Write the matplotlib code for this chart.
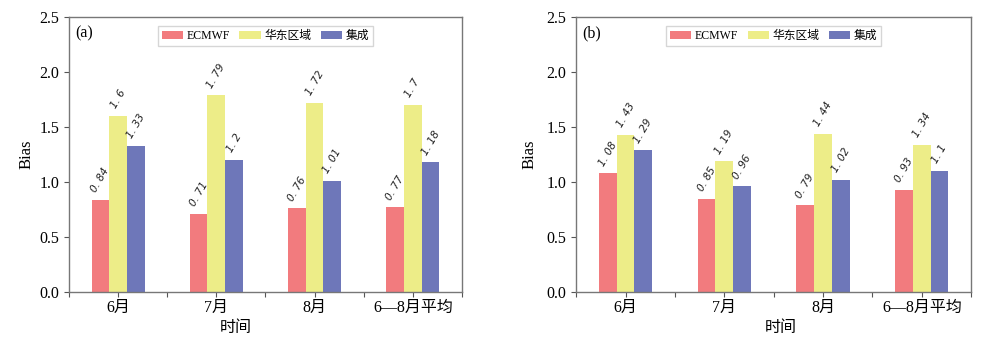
import numpy as np
import matplotlib
matplotlib.use("Agg")
import matplotlib.pyplot as plt

plt.rcParams['font.family'] = ['Liberation Serif', 'Noto Sans CJK SC']
plt.rcParams['axes.unicode_minus'] = False

categories = ['6月', '7月', '8月', '6—8月平均']
series_names = ['ECMWF', '华东区域', '集成']

a_ecmwf = [0.84, 0.71, 0.76, 0.77]
a_huadong = [1.6, 1.79, 1.72, 1.7]
a_jicheng = [1.33, 1.2, 1.01, 1.18]

b_ecmwf = [1.08, 0.85, 0.79, 0.93]
b_huadong = [1.43, 1.19, 1.44, 1.34]
b_jicheng = [1.29, 0.96, 1.02, 1.1]

yticks = [0.0, 0.5, 1.0, 1.5, 2.0, 2.5]
colors = ['#F27B7E', '#EDED88', '#6E77B9']


def fmt(v):
    s = f"{v:g}"
    return s.replace('.', '. ')


fig = plt.figure(figsize=(9.85, 3.4), dpi=100)
ax_a = fig.add_axes([0.070, 0.141, 0.399, 0.809])
ax_b = fig.add_axes([0.585, 0.141, 0.401, 0.809])

panels = [
    (ax_a, '(a)', [a_ecmwf, a_huadong, a_jicheng], 0.425, -0.087),
    (ax_b, '(b)', [b_ecmwf, b_huadong, b_jicheng], 0.519, -0.099),
]

x = np.arange(len(categories))
w = 0.18
for ax, tag, data, xlab, ylab in panels:
    for i, (vals, name, c) in enumerate(zip(data, series_names, colors)):
        pos = x + (i - 1) * w
        ax.bar(pos, vals, width=w, color=c, label=name)
        for px, v in zip(pos, vals):
            ax.annotate(fmt(v), (px, v), xytext=(0, 4), textcoords='offset points',
                        rotation=60, ha='center', va='bottom', fontsize=7.5,
                        family='DejaVu Sans', style='italic', color='#222222')
    ax.set_xlim(-0.5, 3.5)
    ax.set_ylim(0, 2.5)
    ax.set_yticks(yticks)
    ax.set_yticklabels([f"{t:.1f}" for t in yticks])
    ax.set_xticks(x)
    ax.set_xticklabels(categories)
    ax.set_xticks(np.arange(-0.5, 3.6, 1.0), minor=True)
    ax.tick_params(axis='both', which='both', direction='out', length=3.5,
                   width=0.8, color='#555555', labelsize=11.5)
    ax.tick_params(axis='x', pad=2)
    for sp in ax.spines.values():
        sp.set_color('#777777')
        sp.set_linewidth(1.0)
    ax.set_ylabel('Bias', fontsize=12)
    ax.set_xlabel('时间', fontsize=11.5)
    ax.xaxis.set_label_coords(xlab, -0.1)
    ax.yaxis.set_label_coords(ylab, 0.5)
    ax.text(0.015, 0.94, tag, transform=ax.transAxes, fontsize=11.5,
            ha='left', va='center')
    ax.legend(loc='upper center', ncol=3, fontsize=8.5, frameon=True,
              fancybox=False, edgecolor='#cccccc', handlelength=1.8,
              handletextpad=0.3, columnspacing=0.8, borderpad=0.35,
              bbox_to_anchor=(0.5, 0.99))

fig.savefig('out.png', dpi=100)
